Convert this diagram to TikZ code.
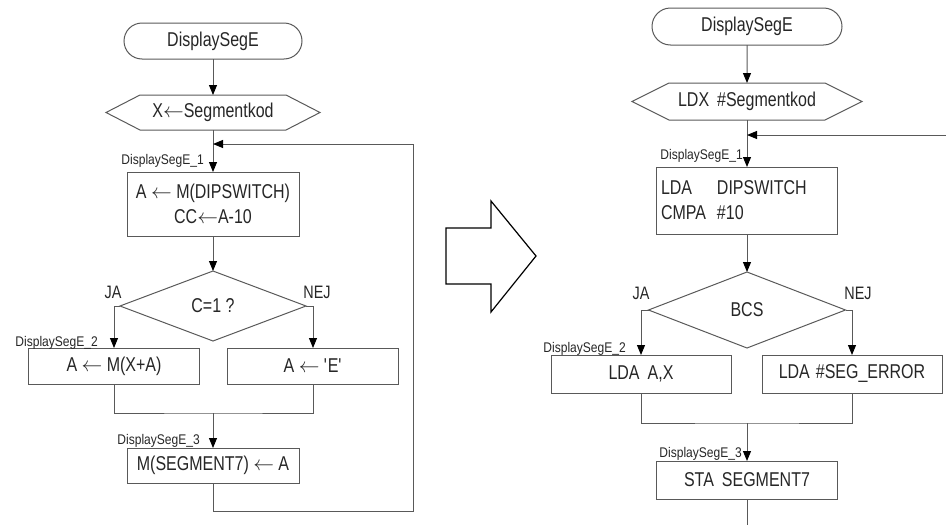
\documentclass[tikz,border=0pt]{standalone}
\usepackage{fontspec}
\setmainfont{Liberation Sans}[FakeStretch=0.8]
\newfontfamily\lblfont{Liberation Sans}[FakeStretch=0.86]
\usetikzlibrary{arrows.meta,calc,shapes.geometric,shapes.misc}

\begin{document}
\begin{tikzpicture}[x=1pt,y=-1pt,
  every node/.style={font=\fontsize{20}{25}\selectfont,text=black!85},
  flow/.style={draw=black!65,line width=1pt},
  arr/.style={flow,-{Triangle[length=10pt,width=8pt,color=black]}},
  term/.style={rounded rectangle,flow,inner sep=0pt,outer sep=0pt},
  io/.style={inner sep=0pt,outer sep=0pt},
  proc/.style={rectangle,flow,inner sep=4pt,outer sep=0pt},
  dec/.style={diamond,flow,inner sep=0pt,outer sep=0pt},
  lbl/.style={font=\lblfont\fontsize{14}{16}\selectfont,anchor=base east,inner sep=0pt},
  yn/.style={font=\fontsize{18}{20}\selectfont}]
\useasboundingbox (0,0) rectangle (946,525);

% left chart
\node[term,minimum width=178pt,minimum height=36pt] (lstart) at (213,41) {DisplaySegE};
\node[io,minimum width=214pt,minimum height=35pt] (linit) at (213,112.5) {X$\leftarrow$Segmentkod};
\coordinate (lloop) at (213,144);
\node[proc,minimum width=172pt,minimum height=64pt,align=center] (lbox1) at (213,204) {A $\leftarrow$ M(DIPSWITCH)\\CC$\leftarrow$A-10};
\node[dec,minimum width=186pt,minimum height=70pt] (ldec) at (213,306) {C=1 ?};
\node[proc,minimum width=171pt,minimum height=36pt] (lyes) at (114,366) {A $\leftarrow$ M(X+A)};
\node[proc,minimum width=171pt,minimum height=36pt] (lno) at (313,366) {A $\leftarrow$ \textquotesingle E\textquotesingle};
\coordinate (lmerge) at (213,413);
\node[proc,minimum width=172pt,minimum height=35pt] (lbox3) at (213,465.5) {M(SEGMENT7) $\leftarrow$ A};
\coordinate (lret) at (413,511);
\node[yn] (lja) at (113,292) {JA};
\node[yn] (lnej) at (317,292) {NEJ};
\node[lbl] (ll1) at (204,164) {DisplaySegE\_1};
\node[lbl] (ll2) at (98,346) {DisplaySegE\_2};
\node[lbl] (ll3) at (200,444) {DisplaySegE\_3};

% right chart
\node[term,minimum width=190pt,minimum height=37pt] (rstart) at (747,26.5) {DisplaySegE};
\node[io,minimum width=230pt,minimum height=37pt] (rinit) at (747,101.5) {LDX\hspace{8pt}\#Segmentkod};
\coordinate (rloop) at (747,135);
\coordinate (rin) at (946,135);
\node[proc,minimum width=181pt,minimum height=67pt,text width=172pt,align=left] (rbox1) at (747,200.5)
  {\makebox[56pt][l]{LDA}DIPSWITCH\\\makebox[56pt][l]{CMPA}\#10};
\node[dec,minimum width=197pt,minimum height=76pt] (rdec) at (747,310) {BCS};
\node[proc,minimum width=180pt,minimum height=38pt] (ryes) at (641,374) {LDA\hspace{8pt}A,X};
\node[proc,minimum width=180pt,minimum height=38pt] (rno) at (852,374) {LDA\hspace{6pt}\#SEG\_ERROR};
\coordinate (rmerge) at (747,423);
\node[proc,minimum width=181pt,minimum height=38pt] (rbox3) at (747,480) {STA\hspace{8pt}SEGMENT7};
\coordinate (rout) at (747,525);
\node[yn] (rja) at (641,293) {JA};
\node[yn] (rnej) at (858,293) {NEJ};
\node[lbl] (rl1) at (743,159) {DisplaySegE\_1};
\node[lbl] (rl2) at (626,352) {DisplaySegE\_2};
\node[lbl] (rl3) at (742,457) {DisplaySegE\_3};

\foreach \n/\d in {linit/34pt,rinit/37pt}
  \draw[flow] (\n.west) -- ([xshift=\d]\n.north west) -- ([xshift=-\d]\n.north east) -- (\n.east)
    -- ([xshift=-\d]\n.south east) -- ([xshift=\d]\n.south west) -- cycle;

\draw[arr] (lstart) -- (linit);
\draw[arr] (linit) -- (lbox1);
\draw[arr] (lbox1) -- (ldec);
\draw[arr] (ldec.west) -| (lyes);
\draw[arr] (ldec.east) -| (lno);
\draw[flow] (lyes) |- (lmerge) -| (lno);
\draw[arr] (lmerge) -- (lbox3);
\draw[arr] (lbox3) |- (lret) |- (lloop);

\draw[arr] (rstart) -- (rinit);
\draw[arr] (rinit) -- (rbox1);
\draw[arr] (rin) -- (rloop);
\draw[arr] (rbox1) -- (rdec);
\draw[arr] (rdec.west) -| (ryes);
\draw[arr] (rdec.east) -| (rno);
\draw[flow] (ryes) |- (rmerge) -| (rno);
\draw[arr] (rmerge) -- (rbox3);
\draw[flow] (rbox3) -- (rout);

% big arrow between the charts
\draw[line width=1.2pt] (446,228) -- (491,228) -- (491,201) -- (536,256) -- (491,312) -- (491,284) -- (446,284) -- cycle;
\end{tikzpicture}
\end{document}
